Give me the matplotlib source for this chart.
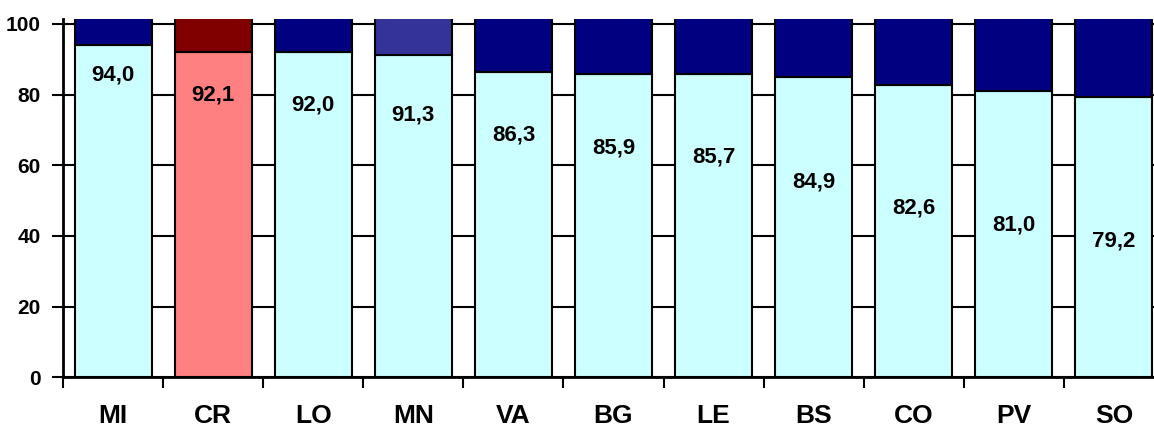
import matplotlib.pyplot as plt

plt.rcParams['font.family'] = ['Liberation Sans', 'DejaVu Sans']

# province codes and share (%) for each
provinces = ['MI', 'CR', 'LO', 'MN', 'VA', 'BG', 'LE', 'BS', 'CO', 'PV', 'SO']
values = [94.0, 92.1, 92.0, 91.3, 86.3, 85.9, 85.7, 84.9, 82.6, 81.0, 79.2]
rest = [100 - v for v in values]

# height (in axis units) where each value label sits
label_y = [85.5, 79.9, 77.0, 74.2, 68.5, 64.8, 62.3, 55.2, 47.9, 43.1, 38.6]

low_colors = ['#CCFFFF'] * len(provinces)
high_colors = ['#000080'] * len(provinces)
low_colors[1] = '#FF8080'
high_colors[1] = '#800000'
high_colors[3] = '#333399'

fig = plt.figure(figsize=(11.54, 4.28), dpi=100)
ax = fig.add_axes([0.0546, 0.1185, 0.954, 0.8374])

x = list(range(len(provinces)))
ax.bar(x, values, width=0.77, color=low_colors, edgecolor='black', linewidth=1.5, zorder=2)
# upper part runs past the top of the plot and gets clipped there
ax.bar(x, [r + 5 for r in rest], bottom=values, width=0.77, color=high_colors,
       edgecolor='black', linewidth=1.5, zorder=2)

for xi, v, ly in zip(x, values, label_y):
    ax.text(xi, ly, f'{v:.1f}'.replace('.', ','), ha='center', va='center',
            fontsize=16, fontweight='bold', zorder=3)

ax.set_xlim(-0.5, len(provinces) - 0.5)
ax.set_ylim(0, 101.4)
ax.set_yticks(range(0, 101, 20))
ax.yaxis.grid(True, color='black', linewidth=1.5, zorder=0)
ax.set_axisbelow(True)

ax.set_xticks(x)
ax.set_xticklabels(provinces)
ax.set_xticks([i - 0.5 for i in range(len(provinces) + 1)], minor=True)
ax.tick_params(axis='x', which='major', length=0, pad=19, labelsize=19)
ax.tick_params(axis='x', which='minor', length=8, width=1.5, direction='out')
ax.tick_params(axis='y', length=8, width=1.5, direction='out', pad=8, labelsize=15)
for lab in ax.get_xticklabels() + ax.get_yticklabels():
    lab.set_fontweight('bold')

for side in ['top', 'right']:
    ax.spines[side].set_visible(False)
for side in ['left', 'bottom']:
    ax.spines[side].set_linewidth(2)

fig.savefig('out.png', dpi=100)
